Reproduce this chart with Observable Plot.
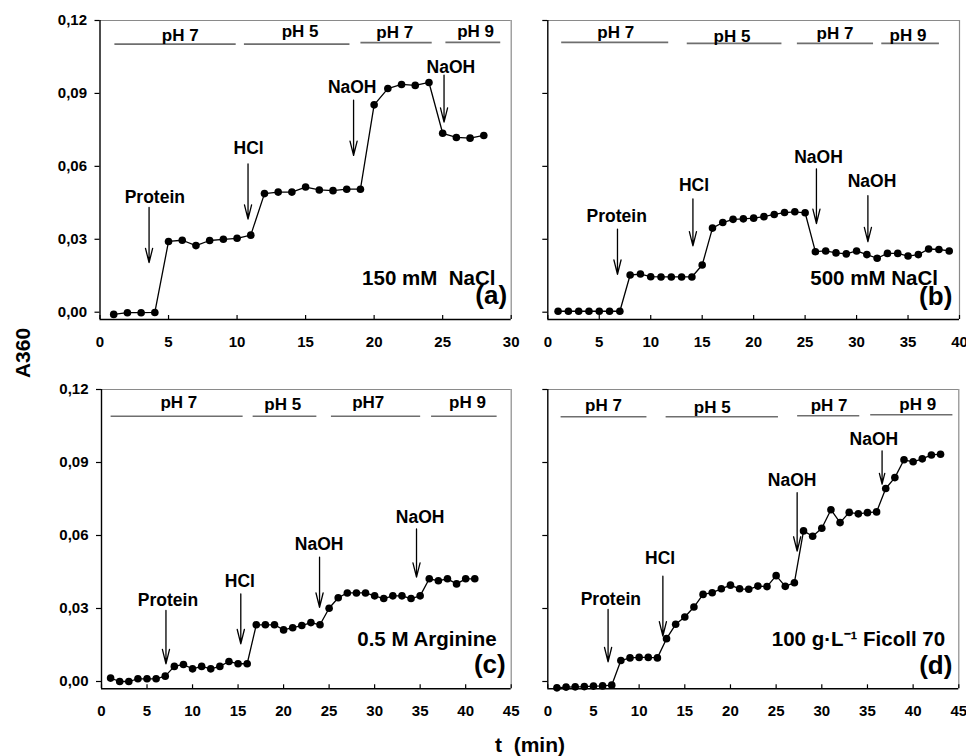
<!DOCTYPE html>
<html><head><meta charset="utf-8">
<script src="https://cdn.jsdelivr.net/npm/d3@7"></script>
<script src="https://cdn.jsdelivr.net/npm/@observablehq/plot@0.6"></script>
<style>
body{margin:0;background:#fff;}
#wrap{position:relative;width:966px;height:756px;overflow:hidden;font-family:"Liberation Sans",Arial,sans-serif;font-weight:bold;color:#000;}
.panel{position:absolute;}
.panel svg{overflow:visible;}
#ylab{position:absolute;left:23px;top:353px;transform:translate(-50%,-50%) rotate(-90deg);font-size:21px;white-space:pre;}
#xlab{position:absolute;left:530px;top:745px;transform:translate(-50%,-50%);font-size:21px;white-space:pre;}
</style></head><body>
<div id="wrap"><div id="ylab">A360</div><div id="xlab">t  (min)</div></div>
<script>
// ---------- data ----------
const yTicks = [0, 0.03, 0.06, 0.09, 0.12];

// (a) 150 mM NaCl
const tA = [1,2,3,4,5,6,7,8,9,10,11,12,13,14,15,16,17,18,19,20,21,22,23,24,25,26,27,28];
const aA = [-0.0009,-0.0002,-0.0002,-0.0001,0.0291,0.0296,0.0274,0.0295,0.0300,0.0304,0.0317,0.0488,0.0494,0.0494,0.0515,0.0503,0.0500,0.0506,0.0506,0.0853,0.0920,0.0937,0.0933,0.0945,0.0736,0.0719,0.0716,0.0727];
const phA = [
  {label:"pH 7", x1:1.05, x2:9.9, ly:0.1103, tx:5.85, ty:0.1140},
  {label:"pH 5", x1:10.5, x2:18.2, ly:0.1103, tx:14.6, ty:0.1153},
  {label:"pH 7", x1:19.0, x2:24.2, ly:0.1109, tx:21.5, ty:0.1149},
  {label:"pH 9", x1:25.2, x2:29.2, ly:0.1110, tx:27.4, ty:0.1153}
];
const arA = [
  {label:"Protein", x:3.58, y1:0.0431, y2:0.0204, tx:4.0, ty:0.0474},
  {label:"HCl", x:10.8, y1:0.0610, y2:0.0383, tx:10.84, ty:0.0672},
  {label:"NaOH", x:18.5, y1:0.0872, y2:0.0645, tx:18.4, ty:0.0924},
  {label:"NaOH", x:25.1, y1:0.0975, y2:0.0782, tx:25.6, ty:0.1007}
];
const condA = {text:"150 mM\u00a0 NaCl", x:28.85, y:0.0140};
const letA = {text:"(a)", x:29.7, y:0.0068};

// (b) 500 mM NaCl
const tB = [1,2,3,4,5,6,7,8,9,10,11,12,13,14,15,16,17,18,19,20,21,22,23,24,25,26,27,28,29,30,31,32,33,34,35,36,37,38,39];
const aB = [0.0004,0.0004,0.0004,0.0004,0.0004,0.0004,0.0004,0.0153,0.0157,0.0146,0.0145,0.0145,0.0145,0.0145,0.0194,0.0346,0.0369,0.0382,0.0384,0.0387,0.0393,0.0402,0.0410,0.0413,0.0409,0.0249,0.0252,0.0244,0.0240,0.0252,0.0237,0.0222,0.0242,0.0242,0.0231,0.0237,0.0260,0.0258,0.0252];
const phB = [
  {label:"pH 7", x1:1.3, x2:11.7, ly:0.1110, tx:6.6, ty:0.1152},
  {label:"pH 5", x1:13.5, x2:22.7, ly:0.1106, tx:17.9, ty:0.1136},
  {label:"pH 7", x1:24.2, x2:31.6, ly:0.1106, tx:27.9, ty:0.1147},
  {label:"pH 9", x1:32.4, x2:38.0, ly:0.1106, tx:35.0, ty:0.1139}
];
const arB = [
  {label:"Protein", x:6.77, y1:0.0342, y2:0.0156, tx:6.7, ty:0.0393},
  {label:"HCl", x:14.1, y1:0.0466, y2:0.0273, tx:14.2, ty:0.0521},
  {label:"NaOH", x:26.1, y1:0.0590, y2:0.0365, tx:26.3, ty:0.0636},
  {label:"NaOH", x:31.1, y1:0.0479, y2:0.0290, tx:31.5, ty:0.0539}
];
const condB = {text:"500 mM NaCl", x:37.9, y:0.0139};
const letB = {text:"(b)", x:39.3, y:0.0065};

// (c) 0.5 M Arginine
const tC = [1,2,3,4,5,6,7,8,9,10,11,12,13,14,15,16,17,18,19,20,21,22,23,24,25,26,27,28,29,30,31,32,33,34,35,36,37,38,39,40,41];
const aC = [0.0014,0.0000,0.0000,0.0011,0.0011,0.0011,0.0022,0.0062,0.0070,0.0052,0.0062,0.0052,0.0062,0.0082,0.0073,0.0073,0.0233,0.0233,0.0233,0.0212,0.0221,0.0230,0.0242,0.0233,0.0301,0.0344,0.0364,0.0364,0.0364,0.0352,0.0341,0.0352,0.0352,0.0341,0.0352,0.0422,0.0414,0.0422,0.0401,0.0422,0.0422];
const phC = [
  {label:"pH 7", x1:1.0, x2:15.5, ly:0.1090, tx:8.5, ty:0.1147},
  {label:"pH 5", x1:16.6, x2:23.6, ly:0.1090, tx:19.9, ty:0.1138},
  {label:"pH7", x1:25.2, x2:35.0, ly:0.1090, tx:29.3, ty:0.1148},
  {label:"pH 9", x1:36.2, x2:43.4, ly:0.1090, tx:40.2, ty:0.1145}
];
const arC = [
  {label:"Protein", x:7.08, y1:0.0292, y2:0.0073, tx:7.3, ty:0.0333},
  {label:"HCl", x:15.3, y1:0.0360, y2:0.0155, tx:15.2, ty:0.0411},
  {label:"NaOH", x:23.95, y1:0.0511, y2:0.0305, tx:23.9, ty:0.0562},
  {label:"NaOH", x:34.6, y1:0.0627, y2:0.0429, tx:35.0, ty:0.0675}
];
const condC = {text:"0.5 M Arginine", x:43.4, y:0.0171};
const letC = {text:"(c)", x:44.4, y:0.0068};

// (d) 100 g/L Ficoll 70
const tD = [1,2,3,4,5,6,7,8,9,10,11,12,13,14,15,16,17,18,19,20,21,22,23,24,25,26,27,28,29,30,31,32,33,34,35,36,37,38,39,40,41,42,43];
const aD = [-0.0026,-0.0023,-0.0022,-0.0021,-0.0019,-0.0018,-0.0015,0.0086,0.0097,0.0099,0.0099,0.0097,0.0176,0.0235,0.0265,0.0306,0.0358,0.0365,0.0381,0.0396,0.0381,0.0379,0.0392,0.0390,0.0435,0.0391,0.0406,0.0619,0.0597,0.0630,0.0706,0.0653,0.0695,0.0689,0.0694,0.0697,0.0793,0.0838,0.0911,0.0903,0.0915,0.0931,0.0934];
const phD = [
  {label:"pH 7", x1:1.4, x2:10.8, ly:0.1088, tx:6.1, ty:0.1136},
  {label:"pH 5", x1:12.9, x2:25.2, ly:0.1088, tx:18.0, ty:0.1125},
  {label:"pH 7", x1:27.3, x2:34.1, ly:0.1092, tx:30.8, ty:0.1136},
  {label:"pH 9", x1:35.3, x2:44.3, ly:0.1096, tx:40.5, ty:0.1139}
];
const arD = [
  {label:"Protein", x:6.6, y1:0.0296, y2:0.0081, tx:6.9, ty:0.0337},
  {label:"HCl", x:12.6, y1:0.0433, y2:0.0187, tx:12.3, ty:0.0506},
  {label:"NaOH", x:27.3, y1:0.0776, y2:0.0536, tx:26.75, ty:0.0827},
  {label:"NaOH", x:36.6, y1:0.0948, y2:0.0811, tx:35.7, ty:0.0996}
];
const condD = {text:"100 g\u00b7L\u207b\u00b9 Ficoll 70", x:43.5, y:0.0173};
const letD = {text:"(d)", x:44.3, y:0.0065};

// ---------- drawing ----------
const fmt = d => d3.format(".2f")(d).replace(".", ",");
const YMIN = -0.003, YMAX = 0.12;

function panel(c) {
  const data = c.t.map((x, i) => ({t: x, a: c.a[i]}));
  const xt = [];
  for (let v = 0; v <= c.xmax; v += 5) xt.push(v);
  const innerH = c.height - c.mT - c.mB;
  const plot = Plot.plot({
    width: c.width, height: c.height,
    marginLeft: c.mL, marginRight: c.mR, marginTop: c.mT, marginBottom: c.mB,
    x: {domain: [0, c.xmax], label: null},
    y: {domain: [YMIN, YMAX], label: null},
    style: {fontFamily: '"Liberation Sans", Arial, sans-serif', fontWeight: "bold", fontSize: "15px", background: "transparent", color: "#000", overflow: "visible"},
    marks: [
      Plot.ruleX([c.xmax], {stroke: "#8a8a8a", strokeWidth: 1.2}),
      Plot.ruleY([YMAX], {stroke: "#8a8a8a", strokeWidth: 1.2}),
      Plot.axisY({ticks: yTicks, tickSize: 5, tickPadding: 8, tickFormat: c.yLabels ? fmt : () => "", fontSize: 15, label: null, strokeWidth: 1.2}),
      Plot.axisX({ticks: xt, tickSize: 0, tickPadding: 17, fontSize: 15, label: null}),
      Plot.ruleX(xt, {insetTop: innerH - 4, stroke: "#000", strokeWidth: 1.2}),
      Plot.ruleX([0], {stroke: "#000", strokeWidth: 1.4}),
      Plot.ruleY([YMIN], {stroke: "#000", strokeWidth: 1.4}),
      Plot.link(c.ph, {x1: "x1", x2: "x2", y1: "ly", y2: "ly", stroke: "#6e6e6e", strokeWidth: 1.6}),
      Plot.text(c.ph, {x: "tx", y: "ty", text: "label", fontSize: 17, fontWeight: "bold"}),
      Plot.arrow(c.ar, {x1: "x", x2: "x", y1: "y1", y2: "y2", stroke: "#000", strokeWidth: 1.3, headAngle: 28, headLength: 17}),
      Plot.text(c.ar, {x: "tx", y: "ty", text: "label", fontSize: 17.5, fontWeight: "bold"}),
      Plot.line(data, {x: "t", y: "a", stroke: "#000", strokeWidth: 1.3}),
      Plot.dot(data, {x: "t", y: "a", r: 3.8, fill: "#000", stroke: "none"}),
      Plot.text([c.cond], {x: "x", y: "y", text: "text", textAnchor: "end", fontSize: 20.5, fontWeight: "bold"}),
      Plot.text([c.let], {x: "x", y: "y", text: "text", textAnchor: "end", fontSize: 26, fontWeight: "bold"})
    ]
  });
  const div = document.createElement("div");
  div.className = "panel";
  div.style.left = c.left + "px";
  div.style.top = c.top + "px";
  div.appendChild(plot);
  document.getElementById("wrap").appendChild(div);
}

panel({t: tA, a: aA, ph: phA, ar: arA, cond: condA, let: letA, xmax: 30, yLabels: true,
  left: 0, top: 0, width: 530, height: 365, mL: 99.5, mR: 19.3, mT: 20, mB: 46});
panel({t: tB, a: aB, ph: phB, ar: arB, cond: condB, let: letB, xmax: 40, yLabels: false,
  left: 530, top: 0, width: 436, height: 365, mL: 17.3, mR: 7, mT: 20, mB: 46});
panel({t: tC, a: aC, ph: phC, ar: arC, cond: condC, let: letC, xmax: 45, yLabels: true,
  left: 0, top: 365, width: 530, height: 391, mL: 101, mR: 19.3, mT: 24, mB: 67.7});
panel({t: tD, a: aD, ph: phD, ar: arD, cond: condD, let: letD, xmax: 45, yLabels: false,
  left: 530, top: 365, width: 436, height: 391, mL: 17.3, mR: 7.7, mT: 24, mB: 67.7});
</script>
</body></html>
